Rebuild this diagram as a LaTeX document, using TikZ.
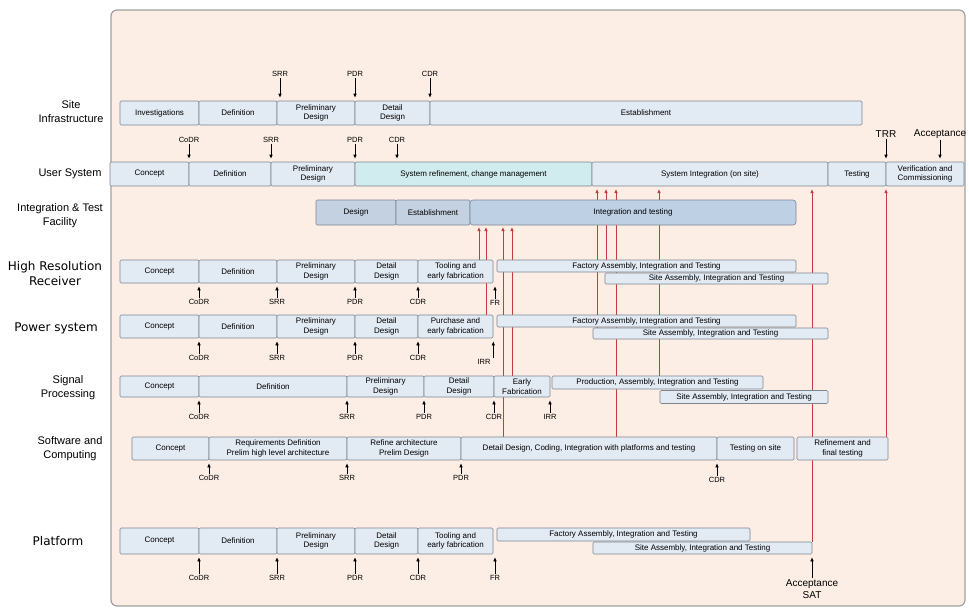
\documentclass[tikz,border=0pt]{standalone}
\usepackage{fontspec}
\setmainfont{Liberation Sans}
\newfontfamily\vera{DejaVu Sans}
\usetikzlibrary{arrows.meta}
\usetikzlibrary{backgrounds}

\definecolor{panelbg}{RGB}{252,238,228}
\definecolor{panelrim}{RGB}{160,160,160}
\definecolor{boxfill}{RGB}{226,234,244}
\definecolor{boxrim}{RGB}{125,133,143}
\definecolor{tealfill}{RGB}{208,236,238}
\definecolor{itffill}{RGB}{196,209,224}
\definecolor{itfmain}{RGB}{190,208,228}
\definecolor{feedred}{RGB}{196,60,60}

\begin{document}
\begin{tikzpicture}[x=1pt,y=-1pt,
	phase/.style={draw=boxrim, fill=boxfill, line width=0.6pt, rounded corners=1.2pt, inner sep=0.5pt, align=center, font=\fontsize{8}{9.5}\selectfont, minimum height=23pt},
	rowlbl/.style={align=center, font=\fontsize{11}{14}\selectfont},
	rowlblv/.style={align=center, font=\vera\fontsize{12}{15}\selectfont},
	ms/.style={font=\fontsize{7.5}{9}\selectfont, inner sep=1pt},
	msbig/.style={align=center, font=\fontsize{10}{12}\selectfont, inner sep=1pt},
	mile/.style={draw=black, line width=0.6pt, -{Latex[length=4pt,width=3.5pt]}, shorten >=3pt},
	feed/.style={draw=feedred, line width=0.8pt, -{Latex[length=4pt,width=3.5pt]}}]
	\useasboundingbox (0,0) rectangle (969,610);

	% site infrastructure
	\node[rowlbl] (lblSite) at (71,112) {Site\\Infrastructure};
	\node[phase, minimum width=79pt, minimum height=24pt] (siInv) at (159.5,113) {Investigations};
	\node[phase, minimum width=78pt, minimum height=24pt] (siDef) at (238,113) {Definition};
	\node[phase, minimum width=78pt, minimum height=24pt] (siPre) at (316,113) {Preliminary\\Design};
	\node[phase, minimum width=75pt, minimum height=24pt] (siDet) at (392.5,113) {Detail\\Design};
	\node[phase, minimum width=432pt, minimum height=24pt] (siEst) at (646,113) {Establishment};
	\node[ms] (siSRR) at (280,74) {SRR};
	\node[ms] (siPDR) at (355,74) {PDR};
	\node[ms] (siCDR) at (430,74) {CDR};
	\draw[mile] (siSRR) -- (siSRR |- siPre.north);
	\draw[mile] (siPDR) -- (siPDR |- siDet.north);
	\draw[mile] (siCDR) -- (siCDR |- siEst.north);

	% user system
	\node[rowlbl] (lblUser) at (70,174) {User System};
	\node[phase, minimum width=79pt, minimum height=24pt] (usCon) at (149.5,174) {Concept};
	\node[phase, minimum width=82pt, minimum height=24pt] (usDef) at (230,174) {Definition};
	\node[phase, minimum width=84pt, minimum height=24pt] (usPre) at (313,174) {Preliminary\\Design};
	\node[phase, fill=tealfill, minimum width=237pt, minimum height=24pt] (usRef) at (473.5,174) {System refinement, change management};
	\node[phase, minimum width=236pt, minimum height=24pt] (usInt) at (710,174) {System Integration (on site)};
	\node[phase, minimum width=58pt, minimum height=24pt] (usTst) at (857,174) {Testing};
	\node[phase, minimum width=78pt, minimum height=24pt] (usVer) at (925,174) {Verification and\\Commissioning};
	\node[ms] (usCoDR) at (189,140) {CoDR};
	\node[ms] (usSRR) at (271,140) {SRR};
	\node[ms] (usPDR) at (355,140) {PDR};
	\node[ms] (usCDR) at (397,140) {CDR};
	\node[msbig] (usTRR) at (886,134) {TRR};
	\node[msbig] (usAcc) at (940,134) {Acceptance};
	\draw[mile] (usCoDR) -- (usCoDR |- usDef.north);
	\draw[mile] (usSRR) -- (usSRR |- usPre.north);
	\draw[mile] (usPDR) -- (usPDR |- usRef.north);
	\draw[mile] (usCDR) -- (usCDR |- usRef.north);
	\draw[mile] (usTRR) -- (usTRR |- usVer.north);
	\draw[mile] (usAcc) -- (usAcc |- usVer.north);

	% integration and test facility
	\node[rowlbl] (lblItf) at (60,216) {Integration \& Test\\Facility};
	\node[phase, fill=itffill, minimum width=80pt, minimum height=25pt] (itDes) at (356,212.5) {Design};
	\node[phase, fill=itffill, minimum width=74pt, minimum height=25pt] (itEst) at (433,212.5) {Establishment};
	\node[phase, fill=itfmain, rounded corners=3pt, minimum width=326pt, minimum height=25pt] (itInt) at (633,212.5) {Integration and testing};

	% high resolution receiver
	\node[rowlblv] (lblHrr) at (55,274) {High Resolution\\Receiver};
	\node[phase, minimum width=79pt] (hrCon) at (159.5,271.5) {Concept};
	\node[phase, minimum width=78pt] (hrDef) at (238,271.5) {Definition};
	\node[phase, minimum width=78pt] (hrPre) at (316,271.5) {Preliminary\\Design};
	\node[phase, minimum width=63pt] (hrDet) at (386.5,271.5) {Detail\\Design};
	\node[phase, minimum width=75pt] (hrTool) at (455.5,271.5) {Tooling and\\early fabrication};
	\node[phase, minimum width=299pt, minimum height=12pt] (hrFac) at (646.5,266) {Factory Assembly, Integration and Testing};
	\node[phase, minimum width=223pt, minimum height=11pt] (hrSite) at (716.5,278.5) {Site Assembly, Integration and Testing};
	\node[ms] (hrCoDR) at (199,302) {CoDR};
	\node[ms] (hrSRR) at (277,302) {SRR};
	\node[ms] (hrPDR) at (355,302) {PDR};
	\node[ms] (hrCDR) at (418,302) {CDR};
	\node[ms] (hrFR) at (495,303) {FR};
	\draw[mile] (hrCoDR) -- (hrCoDR |- hrCon.south);
	\draw[mile] (hrSRR) -- (hrSRR |- hrDef.south);
	\draw[mile] (hrPDR) -- (hrPDR |- hrPre.south);
	\draw[mile] (hrCDR) -- (hrCDR |- hrDet.south);
	\draw[mile] (hrFR) -- (hrFR |- hrTool.south);

	% power system
	\node[rowlblv] (lblPow) at (56,328) {Power system};
	\node[phase, minimum width=79pt] (pwCon) at (159.5,326.5) {Concept};
	\node[phase, minimum width=78pt] (pwDef) at (238,326.5) {Definition};
	\node[phase, minimum width=78pt] (pwPre) at (316,326.5) {Preliminary\\Design};
	\node[phase, minimum width=63pt] (pwDet) at (386.5,326.5) {Detail\\Design};
	\node[phase, minimum width=75pt] (pwTool) at (455.5,326.5) {Purchase and\\early fabrication};
	\node[phase, minimum width=299pt, minimum height=12pt] (pwFac) at (646.5,321) {Factory Assembly, Integration and Testing};
	\node[phase, minimum width=235pt, minimum height=11pt] (pwSite) at (710.5,333.5) {Site Assembly, Integration and Testing};
	\node[ms] (pwCoDR) at (199,358) {CoDR};
	\node[ms] (pwSRR) at (277,358) {SRR};
	\node[ms] (pwPDR) at (355,358) {PDR};
	\node[ms] (pwCDR) at (418,358) {CDR};
	\node[ms] (pwIRR) at (484,362) {IRR};
	\draw[mile] (pwCoDR) -- (pwCoDR |- pwCon.south);
	\draw[mile] (pwSRR) -- (pwSRR |- pwDef.south);
	\draw[mile] (pwPDR) -- (pwPDR |- pwPre.south);
	\draw[mile] (pwCDR) -- (pwCDR |- pwDet.south);
	\draw[mile] (pwIRR.north -| pwTool.south east) -- (pwTool.south east);

	% signal processing
	\node[rowlbl] (lblSig) at (68,388) {Signal\\Processing};
	\node[phase, minimum width=79pt, minimum height=21pt] (sgCon) at (159.5,386.5) {Concept};
	\node[phase, minimum width=148pt, minimum height=21pt] (sgDef) at (273,386.5) {Definition};
	\node[phase, minimum width=77pt, minimum height=21pt] (sgPre) at (385.5,386.5) {Preliminary\\Design};
	\node[phase, minimum width=70pt, minimum height=21pt] (sgDet) at (459,386.5) {Detail\\Design};
	\node[phase, minimum width=56pt, minimum height=21pt] (sgEar) at (522,386.5) {Early\\Fabrication};
	\node[phase, minimum width=211pt, minimum height=13pt] (sgPro) at (657.5,382.5) {Production, Assembly, Integration and Testing};
	\node[phase, minimum width=168pt, minimum height=13pt] (sgSite) at (744,397) {Site Assembly, Integration and Testing};
	\node[ms] (sgCoDR) at (199,417) {CoDR};
	\node[ms] (sgSRR) at (347,417) {SRR};
	\node[ms] (sgPDR) at (424,417) {PDR};
	\node[ms] (sgCDR) at (494,417) {CDR};
	\node[ms] (sgIRR) at (550,417) {IRR};
	\draw[mile] (sgCoDR) -- (sgCoDR |- sgCon.south);
	\draw[mile] (sgSRR) -- (sgSRR |- sgDef.south);
	\draw[mile] (sgPDR) -- (sgPDR |- sgPre.south);
	\draw[mile] (sgCDR) -- (sgCDR |- sgDet.south);
	\draw[mile] (sgIRR) -- (sgIRR |- sgEar.south);

	% software and computing
	\node[rowlbl] (lblSw) at (70,449) {Software and\\Computing};
	\node[phase, minimum width=77pt] (swCon) at (170.5,448.5) {Concept};
	\node[phase, minimum width=138pt] (swReq) at (278,448.5) {Requirements Definition\\Prelim high level architecture};
	\node[phase, minimum width=114pt] (swRef) at (404,448.5) {Refine architecture\\Prelim Design};
	\node[phase, minimum width=256pt] (swDet) at (589,448.5) {Detail Design, Coding, Integration with platforms and testing};
	\node[phase, minimum width=77pt] (swTst) at (755.5,448.5) {Testing on site};
	\node[phase, minimum width=91pt] (swFin) at (842.5,448.5) {Refinement and\\final testing};
	\node[ms] (swCoDR) at (209,478) {CoDR};
	\node[ms] (swSRR) at (347,478) {SRR};
	\node[ms] (swPDR) at (461,478) {PDR};
	\node[ms] (swCDR) at (717,480) {CDR};
	\draw[mile] (swCoDR) -- (swCoDR |- swCon.south);
	\draw[mile] (swSRR) -- (swSRR |- swReq.south);
	\draw[mile] (swPDR) -- (swPDR |- swRef.south);
	\draw[mile] (swCDR) -- (swCDR |- swDet.south);

	% platform
	\node[rowlblv] (lblPlat) at (58,541) {Platform};
	\node[phase, minimum width=79pt, minimum height=26pt] (pfCon) at (159.5,541) {Concept};
	\node[phase, minimum width=78pt, minimum height=26pt] (pfDef) at (238,541) {Definition};
	\node[phase, minimum width=78pt, minimum height=26pt] (pfPre) at (316,541) {Preliminary\\Design};
	\node[phase, minimum width=63pt, minimum height=26pt] (pfDet) at (386.5,541) {Detail\\Design};
	\node[phase, minimum width=75pt, minimum height=26pt] (pfTool) at (455.5,541) {Tooling and\\early fabrication};
	\node[phase, minimum width=253pt, minimum height=13pt] (pfFac) at (623.5,534.5) {Factory Assembly, Integration and Testing};
	\node[phase, minimum width=219pt, minimum height=12pt] (pfSite) at (702.5,548) {Site Assembly, Integration and Testing};
	\node[ms] (pfCoDR) at (199,578) {CoDR};
	\node[ms] (pfSRR) at (277,578) {SRR};
	\node[ms] (pfPDR) at (355,578) {PDR};
	\node[ms] (pfCDR) at (418,578) {CDR};
	\node[ms] (pfFR) at (495,578) {FR};
	\node[msbig] (pfSAT) at (812,589) {Acceptance\\SAT};
	\draw[mile] (pfCoDR) -- (pfCoDR |- pfCon.south);
	\draw[mile] (pfSRR) -- (pfSRR |- pfDef.south);
	\draw[mile] (pfPDR) -- (pfPDR |- pfPre.south);
	\draw[mile] (pfCDR) -- (pfCDR |- pfDet.south);
	\draw[mile] (pfFR) -- (pfFR |- pfTool.south);
	\draw[mile] (pfSAT) -- (pfSAT |- pfSite.south);

	% feeds into the facility and the user system
	\coordinate (itIn1) at (479,227);
	\coordinate (itIn2) at (486,227);
	\coordinate (itIn3) at (503,227);
	\coordinate (itIn4) at (512,227);
	\coordinate (usIn1) at (597,189);
	\coordinate (usIn2) at (606,189);
	\coordinate (usIn3) at (616,189);
	\coordinate (usIn4) at (659,189);
	\coordinate (usIn5) at (812,189);
	\coordinate (usIn6) at (886,189);

	\begin{pgfonlayer}{background}
		\fill[white] (0,0) rectangle (969,610);
		\draw[panelrim, fill=panelbg, line width=1.2pt, rounded corners=6pt] (111,10) rectangle (965,606);
		\draw[feed] (hrTool.north -| itIn1) -- (itIn1);
		\draw[feed] (pwTool.north -| itIn2) -- (itIn2);
		\draw[feed] (swDet.north -| itIn3) -- (itIn3);
		\draw[feed] (sgEar.north -| itIn4) -- (itIn4);
		\draw[feed] (pwSite.north -| usIn1) -- (usIn1);
		\draw[feed] (hrFac.north -| usIn2) -- (usIn2);
		\draw[feed] (swDet.north -| usIn3) -- (usIn3);
		\draw[feed] (sgPro.north -| usIn4) -- (usIn4);
		\draw[feed] (pfSite.north -| usIn5) -- (usIn5);
		\draw[feed] (swFin.north -| usIn6) -- (usIn6);
	\end{pgfonlayer}
\end{tikzpicture}
\end{document}
